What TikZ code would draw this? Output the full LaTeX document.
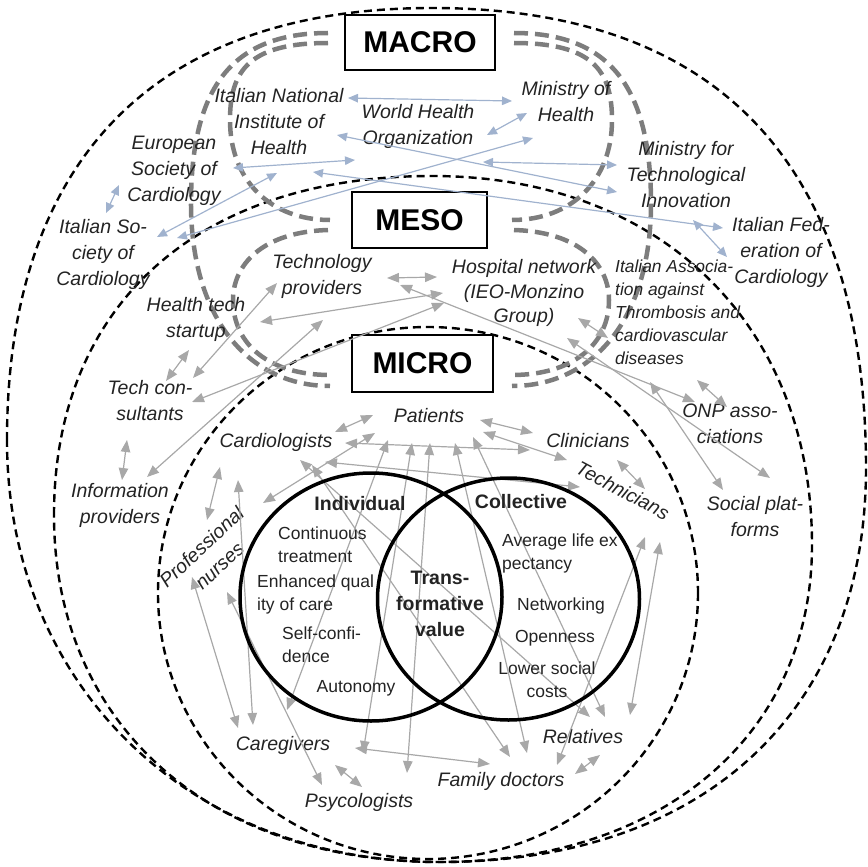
\documentclass[tikz,border=0pt]{standalone}
\usepackage{fontspec}
\setmainfont{Liberation Sans}
\usepackage{tikz}
\usetikzlibrary{arrows.meta}
\definecolor{cMacro}{RGB}{160,178,206}
\definecolor{cLink}{RGB}{168,168,168}
\definecolor{cBracket}{RGB}{125,125,125}
\definecolor{cText}{RGB}{35,35,35}
\tikzset{
	% level rings and level boxes
	levelring/.style ={draw=black, line width=2.4pt, dash pattern=on 8pt off 5pt},
	bracket/.style   ={draw=cBracket, line width=4.5pt, dash pattern=on 14pt off 7pt},
	lvl/.style       ={rectangle, draw=black, line width=1.5pt, fill=white, inner sep=0pt, font=\fontsize{30}{34}\selectfont\bfseries},
	% actors
	actor/.style     ={align=center, inner sep=0pt, text=cText, execute at begin node=\strut, execute at end node=\strut, font=\fontsize{19.5}{26}\selectfont\itshape},
	smallactor/.style={actor, align=left, font=\fontsize{17.4}{23}\selectfont\itshape},
	% value circles
	venn/.style      ={draw=black, line width=3.5pt},
	vhead/.style     ={align=center, inner sep=0pt, text=cText, execute at begin node=\strut, execute at end node=\strut, font=\fontsize{19.5}{26}\selectfont\bfseries},
	vitem/.style     ={align=left, inner sep=0pt, text=cText, execute at begin node=\strut, execute at end node=\strut, font=\fontsize{17.5}{23}\selectfont},
	% links
	macrolink/.style ={{Triangle[length=10pt, width=8.5pt]}-{Triangle[length=10pt, width=8.5pt]}, draw=cMacro, line width=1.2pt},
	mesolink/.style  ={{Triangle[length=12pt, width=9.5pt]}-{Triangle[length=12pt, width=9.5pt]}, draw=cLink, line width=1.2pt},
}

\begin{document}
\begin{tikzpicture}[x=1pt, y=-1pt]
\useasboundingbox (0,0) rectangle (868,867);
% nested levels
\draw[levelring] (7,440) .. controls (7,159) and (156,8) .. (432,8) .. controls (718,8) and (866,164) .. (866,468) .. controls (866,712) and (704,862) .. (440,862) .. controls (189,862) and (7,685) .. (7,440) -- cycle;
\draw[levelring] (54,515) .. controls (54,305) and (198,176) .. (432,176) .. controls (660,176) and (812,324) .. (812,545) .. controls (812,735) and (663,862) .. (440,862) .. controls (208,862) and (54,723) .. (54,515) -- cycle;
\draw[levelring] (428,593) ellipse [x radius=270, y radius=266];
% brackets between the level boxes
\draw[bracket] (328,33) .. controls (230,33) and (192,90) .. (191,200) .. controls (190,320) and (250,386) .. (330,386);
\draw[bracket] (328,43) .. controls (250,43) and (230,70) .. (230,120) .. controls (230,180) and (270,220) .. (330,220);
\draw[bracket] (328,230) .. controls (262,232) and (233,265) .. (233,300) .. controls (233,345) and (270,375) .. (330,375);
\draw[bracket] (514,33) .. controls (612,33) and (650,90) .. (651,200) .. controls (652,320) and (592,386) .. (512,386);
\draw[bracket] (514,43) .. controls (592,43) and (612,70) .. (612,120) .. controls (612,180) and (572,220) .. (512,220);
\draw[bracket] (514,230) .. controls (580,232) and (609,265) .. (609,300) .. controls (609,345) and (572,375) .. (512,375);

\node[lvl, minimum width=150pt, minimum height=55pt] (macro) at (420,42.5) {MACRO};
\node[lvl, minimum width=135pt, minimum height=56pt] (meso) at (419.5,220) {MESO};
\node[lvl, minimum width=141pt, minimum height=57pt] (micro) at (422.5,363.5) {MICRO};

% macro actors
\node[actor] (inh) at (279,125) {Italian National\\Institute of\\Health};
\node[actor] (who) at (418,128) {World Health\\Organization};
\node[actor] (moh) at (566,105) {Ministry of\\Health};
\node[actor] (esc) at (174,173) {European\\Society of\\Cardiology};
\node[actor] (isc) at (103,256) {Italian So-\\ciety of\\Cardiology};
\node[actor] (mti) at (686,178) {Ministry for\\Technological\\Innovation};
\node[actor] (ifc) at (781,254) {Italian Fed-\\eration of\\Cardiology};
% meso actors
\node[actor] (tp) at (322,278) {Technology\\providers};
\node[actor, font=\fontsize{19.5}{24.5}\selectfont\itshape] (hn) at (524,295) {Hospital network\\(IEO-Monzino\\Group)};
\node[smallactor, anchor=west] (iat) at (615,316) {Italian Associa-\\tion against\\Thrombosis and\\cardiovascular\\diseases};
\node[actor] (hts) at (196,321) {Health tech\\startup};
\node[actor] (tc) at (150,404) {Tech con-\\sultants};
\node[actor] (ip) at (120,507) {Information\\providers};
\node[actor] (onp) at (730,428) {ONP asso-\\ciations};
\node[actor] (sp) at (755,520) {Social plat-\\forms};
% micro actors
\node[actor] (pat) at (429,417) {Patients};
\node[actor] (car) at (276,442) {Cardiologists};
\node[actor] (cli) at (588,442) {Clinicians};
\node[actor, rotate=-28] (tec) at (622,492) {Technicians};
\node[actor, rotate=43] (pn) at (213,559) {Professional\\nurses};
\node[actor] (cg) at (283,745) {Caregivers};
\node[actor] (psy) at (359,802) {Psycologists};
\node[actor] (fd) at (501,781) {Family doctors};
\node[actor] (rel) at (583,738) {Relatives};

% macro links
\draw[macrolink] ([shift={(69,-27)}]inh.center) -- ([shift={(-54,-4)}]moh.center);
\draw[macrolink] ([shift={(69,7)}]who.center) -- ([shift={(-39,8)}]moh.center);
\draw[macrolink] ([shift={(58,10)}]inh.center) -- ([shift={(-69,14)}]mti.center);
\draw[macrolink] ([shift={(59,-5)}]esc.center) -- ([shift={(-63,32)}]who.center);
\draw[macrolink] ([shift={(65,34)}]who.center) -- ([shift={(-69,-13)}]mti.center);
\draw[macrolink] ([shift={(34,47)}]inh.center) -- ([shift={(-58,-26)}]ifc.center);
\draw[macrolink] ([shift={(-55,12)}]esc.center) -- ([shift={(3,-43)}]isc.center);
\draw[macrolink] ([shift={(54,-19)}]isc.center) -- ([shift={(-2,48)}]inh.center);
\draw[macrolink] ([shift={(74,-18)}]isc.center) -- ([shift={(-33,33)}]moh.center);
\draw[macrolink] ([shift={(7,42)}]mti.center) -- ([shift={(-54,3)}]ifc.center);
% meso links
\draw[mesolink] ([shift={(65,0)}]tp.center) -- ([shift={(-87,-18)}]hn.center);
\draw[mesolink] ([shift={(78,7)}]tp.center) -- ([shift={(-35,-26)}]onp.center);
\draw[mesolink] ([shift={(43,-26)}]tc.center) -- ([shift={(-45,5)}]tp.center);
\draw[mesolink] ([shift={(64,1)}]hts.center) -- ([shift={(-81,-2)}]hn.center);
\draw[mesolink] ([shift={(42,-2)}]tc.center) -- ([shift={(-80,8)}]hn.center);
\draw[mesolink] ([shift={(27,-30)}]ip.center) -- ([shift={(1,42)}]tp.center);
\draw[mesolink] ([shift={(-7,29)}]hts.center) -- ([shift={(16,-23)}]tc.center);
\draw[mesolink] ([shift={(-23,36)}]tc.center) -- ([shift={(2,-27)}]ip.center);
\draw[mesolink] ([shift={(54,23)}]hn.center) -- ([shift={(-7,22)}]iat.west);
\draw[mesolink] ([shift={(43,43)}]hn.center) -- ([shift={(15,-42)}]sp.center);
\draw[mesolink] ([shift={(35,66)}]iat.west) -- ([shift={(-32,-30)}]sp.center);
\draw[mesolink] ([shift={(82,64)}]iat.west) -- ([shift={(-3,-21)}]onp.center);
% micro links
\draw[mesolink] ([shift={(59,-10)}]car.center) -- ([shift={(-56,-2)}]pat.center);
\draw[mesolink] ([shift={(50,-56)}]pn.center) -- ([shift={(-54,16)}]pat.center);
\draw[mesolink] ([shift={(69,1)}]car.center) -- ([shift={(-58,8)}]cli.center);
\draw[mesolink] ([shift={(51,3)}]pat.center) -- ([shift={(-55,-9)}]cli.center);
\draw[mesolink] ([shift={(54,15)}]pat.center) -- ([shift={(-55,-32)}]tec.center);
\draw[mesolink] ([shift={(49,20)}]car.center) -- ([shift={(-42,-5)}]tec.center);
\draw[mesolink] ([shift={(24,18)}]car.center) -- ([shift={(7,-21)}]rel.center);
\draw[mesolink] ([shift={(36,23)}]car.center) -- ([shift={(9,-24)}]fd.center);
\draw[mesolink] ([shift={(-38,38)}]car.center) -- ([shift={(-30,-20)}]cg.center);
\draw[mesolink] ([shift={(-56,25)}]car.center) -- ([shift={(-6,-39)}]pn.center);
\draw[mesolink] ([shift={(-21,18)}]pn.center) -- ([shift={(-45,-17)}]cg.center);
\draw[mesolink] ([shift={(14,33)}]pn.center) -- ([shift={(-37,-17)}]psy.center);
\draw[mesolink] ([shift={(52,20)}]cg.center) -- ([shift={(3,-15)}]psy.center);
\draw[mesolink] ([shift={(72,3)}]cg.center) -- ([shift={(-11,-17)}]fd.center);
\draw[mesolink] ([shift={(56,-16)}]fd.center) -- ([shift={(23,45)}]tec.center);
\draw[mesolink] ([shift={(74,-7)}]fd.center) -- ([shift={(17,17)}]rel.center);
\draw[mesolink] ([shift={(47,-23)}]rel.center) -- ([shift={(38,50)}]tec.center);
\draw[mesolink] ([shift={(29,18)}]cli.center) -- ([shift={(23,-3)}]tec.center);
\draw[mesolink] ([shift={(-41,23)}]pat.center) -- ([shift={(4,-35)}]cg.center);
\draw[mesolink] ([shift={(-17,26)}]pat.center) -- ([shift={(80,8)}]cg.center);
\draw[mesolink] ([shift={(1,26)}]pat.center) -- ([shift={(48,-29)}]psy.center);
\draw[mesolink] ([shift={(26,26)}]pat.center) -- ([shift={(26,-28)}]fd.center);
\draw[mesolink] ([shift={(44,20)}]pat.center) -- ([shift={(22,-21)}]rel.center);

% value circles
\draw[venn] (371,597) ellipse [x radius=131, y radius=124];
\draw[venn] (508.5,599) ellipse [x radius=131, y radius=121];
\node[vhead] (indiv) at (360,505) {Individual};
\node[vhead] (coll) at (521,503) {Collective};
\node[vhead] (trans) at (440,608) {Trans-\\formative\\value};
\node[vitem, anchor=west] (cont) at (278,548.5) {Continuous\\treatment};
\node[vitem, anchor=west] (qual) at (257,596.5) {Enhanced qual\\ity of care};
\node[vitem, anchor=west] (self) at (282,648.5) {Self-confi-\\dence};
\node[vitem] (auto) at (356,688) {Autonomy};
\node[vitem, anchor=west] (life) at (502,555) {Average life ex\\pectancy};
\node[vitem] (net) at (561,606) {Networking};
\node[vitem] (open) at (555,638) {Openness};
\node[vitem, align=center] (low) at (547,683.5) {Lower social\\costs};
\end{tikzpicture}
\end{document}
